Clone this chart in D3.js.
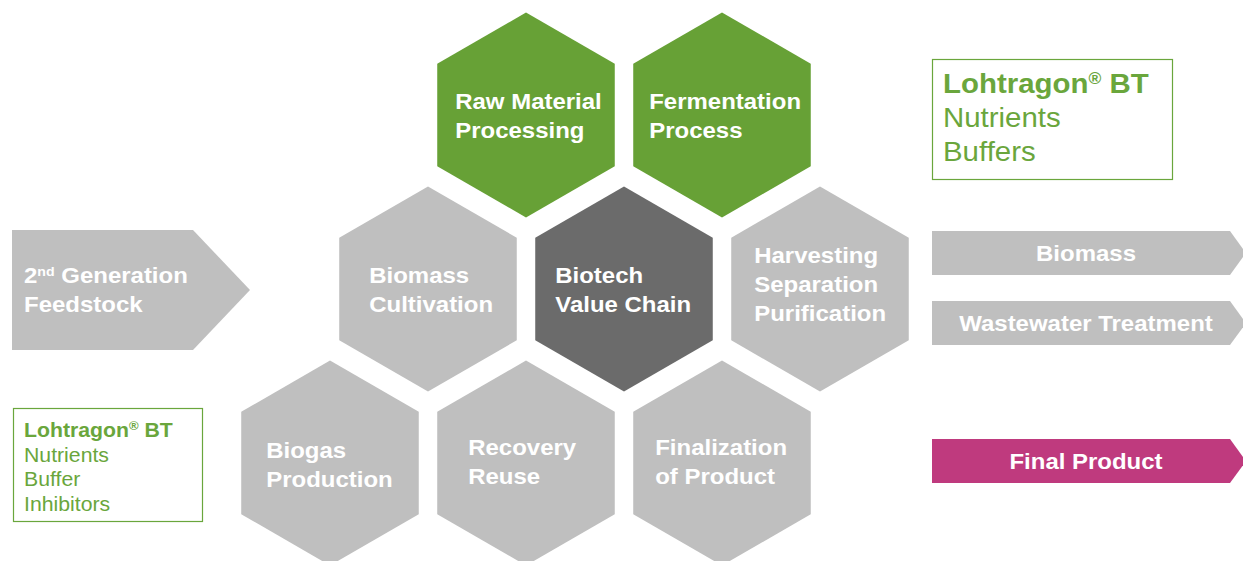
<!DOCTYPE html>
<html><head><meta charset="utf-8">
<script src="https://cdn.jsdelivr.net/npm/d3@7"></script>
<style>html,body{margin:0;padding:0;background:#fff;}svg{display:block;}</style>
</head><body>
<svg id="c" width="1243" height="561"></svg>
<script>
// ---- data ----
const hexLabels = [
  ["Raw Material","Processing"],
  ["Fermentation","Process"],
  ["Biomass","Cultivation"],
  ["Biotech","Value Chain"],
  ["Harvesting","Separation","Purification"],
  ["Biogas","Production"],
  ["Recovery","Reuse"],
  ["Finalization","of Product"]
];
const hexCol = [1, 2, 0.5, 1.5, 2.5, 0, 1, 2];
const hexRow = [0, 0, 1, 1, 1, 2, 2, 2];
const hexKind = ["green","green","light","dark","light","light","light","light"];
const outputLabels = ["Biomass", "Wastewater Treatment", "Final Product"];
const outputKind = ["light", "light", "magenta"];
const inputLabel = ["2nd Generation", "Feedstock"];
const topBoxLines = ["Lohtragon® BT", "Nutrients", "Buffers"];
const bottomBoxLines = ["Lohtragon® BT", "Nutrients", "Buffer", "Inhibitors"];

// ---- layout / style ----
const colors = {green:"#67a136", light:"#bfbfbf", dark:"#6b6b6b", magenta:"#bf3a7e", boxGreen:"#6aa63c"};
const FONT = "'Liberation Sans', Arial, Helvetica, sans-serif";
const SX = 1.09;
const R = 102.5;
const hexInset = [18, 16, 30, 20, 23, 25, 31, 22];
const hexTextDy = [0, 0, 0, 0, -5, 1, -2, -2];
const x = d3.scaleLinear().domain([0, 1]).range([330, 526]);
const y = d3.scaleLinear().domain([0, 1]).range([115, 289]);
const outY = d3.scaleOrdinal().domain(outputLabels).range([253, 323, 461]);

const svg = d3.select("#c");

function stretchedText(g, tx, ty, anchor) {
  return g.append("text")
    .attr("transform", `translate(${tx},${ty}) scale(${SX},1)`)
    .attr("text-anchor", anchor)
    .attr("font-family", FONT);
}
function addLine(t, str, supSize) {
  if (str.startsWith("2nd")) {
    t.append("tspan").text("2");
    t.append("tspan").attr("font-size", supSize).attr("baseline-shift", "super").text("nd");
    t.append("tspan").text(str.slice(3));
  } else if (str.includes("®")) {
    const [a, b] = str.split("®");
    t.append("tspan").text(a);
    t.append("tspan").attr("font-size", supSize).attr("baseline-shift", "super").text("®");
    t.append("tspan").text(b);
  } else {
    t.append("tspan").text(str);
  }
}

// hexagons
const hexPts = d3.range(6).map(k => {
  const a = (-90 + 60 * k) * Math.PI / 180;
  return [R * Math.cos(a), R * Math.sin(a)];
});
const hexPath = d3.line()(hexPts) + "Z";
const hexes = svg.append("g").selectAll("g").data(hexLabels).join("g")
  .attr("transform", (d, i) => `translate(${x(hexCol[i])},${y(hexRow[i])})`);
hexes.append("path").attr("d", hexPath).attr("fill", (d, i) => colors[hexKind[i]]);
hexes.each(function(d, i) {
  const g = d3.select(this);
  const lh = 29;
  const x0 = -R * Math.sqrt(3) / 2 + hexInset[i];
  d.forEach((line, j) => {
    const cyLine = (j - (d.length - 1) / 2) * lh;
    const t = stretchedText(g, x0, cyLine + 8 + hexTextDy[i], "start")
      .attr("font-size", 22).attr("font-weight", "bold").attr("fill", "#fff");
    addLine(t, line, 13);
  });
});

// input arrow (left)
const inG = svg.append("g");
inG.append("path")
  .attr("d", d3.line()([[12,230],[193,230],[250,290],[193,350],[12,350]]) + "Z")
  .attr("fill", colors.light);
inputLabel.forEach((line, j) => {
  const t = stretchedText(inG, 24, 283 + j * 29, "start")
    .attr("font-size", 22).attr("font-weight", "bold").attr("fill", "#fff");
  addLine(t, line, 13);
});

// output arrows (right)
const outG = svg.append("g").selectAll("g").data(outputLabels).join("g")
  .attr("transform", d => `translate(0,${outY(d)})`);
outG.append("path")
  .attr("d", d3.line()([[932,-22],[1230,-22],[1246,0],[1230,22],[932,22]]) + "Z")
  .attr("fill", (d, i) => colors[outputKind[i]]);
outG.each(function(d) {
  const t = stretchedText(d3.select(this), 1086, 8, "middle")
    .attr("font-size", 22).attr("font-weight", "bold").attr("fill", "#fff");
  addLine(t, d, 12);
});

// top-right box
const tb = svg.append("g");
tb.append("rect").attr("x", 932.5).attr("y", 59.5).attr("width", 240).attr("height", 120)
  .attr("fill", "none").attr("stroke", colors.boxGreen).attr("stroke-width", 1.2);
topBoxLines.forEach((line, j) => {
  const t = stretchedText(tb, 943, 93 + j * 34, "start")
    .attr("font-size", 27).attr("font-weight", j === 0 ? "bold" : "normal").attr("fill", colors.boxGreen);
  addLine(t, line, 16);
});

// bottom-left box
const bb = svg.append("g");
bb.append("rect").attr("x", 13.5).attr("y", 408.5).attr("width", 189).attr("height", 113)
  .attr("fill", "none").attr("stroke", colors.boxGreen).attr("stroke-width", 1.2);
bottomBoxLines.forEach((line, j) => {
  const t = stretchedText(bb, 24, 437 + j * 24.5, "start")
    .attr("font-size", 19.5).attr("font-weight", j === 0 ? "bold" : "normal").attr("fill", colors.boxGreen);
  addLine(t, line, 12);
});
</script>
</body></html>
